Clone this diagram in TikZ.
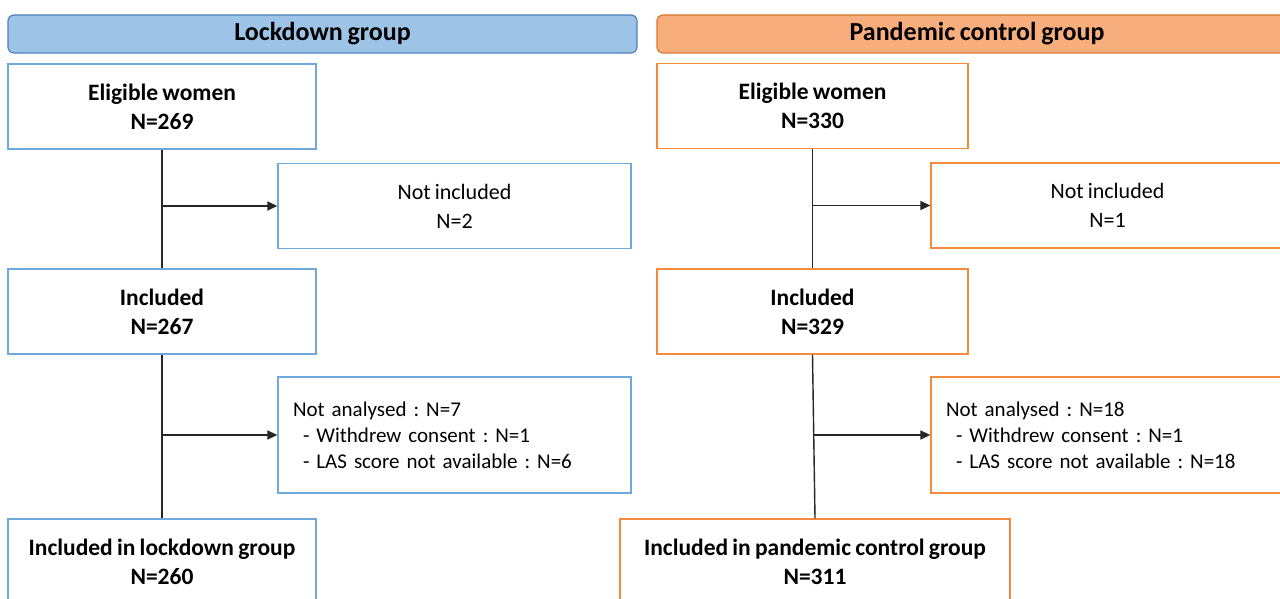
\documentclass[tikz,border=0pt]{standalone}
\usepackage{fontspec}
\setmainfont{Carlito}[WordSpace=0.8]
\usetikzlibrary{arrows.meta}
\definecolor{bluefill}{HTML}{9DC3E6}
\definecolor{blueedge}{HTML}{4F81BD}
\definecolor{bluebox}{HTML}{6FA8DC}
\definecolor{orfill}{HTML}{F8AE7C}
\definecolor{oredge}{HTML}{D9782F}
\definecolor{orbox}{HTML}{F28C3C}
\definecolor{conn}{HTML}{262626}
\frenchspacing
\begin{document}
\begin{tikzpicture}[x=1pt,y=-1pt,
  hdr/.style={draw, rounded corners=6pt, line width=1.2pt, inner sep=0pt,
    font=\bfseries\fontsize{26}{30}\selectfont, minimum height=38pt},
  box/.style={draw, fill=white, line width=1.3pt, inner sep=0pt, align=center,
    font=\fontsize{22}{29}\selectfont, minimum height=85pt},
  bbox/.style={box, font=\bfseries\fontsize{23.5}{29}\selectfont},
  lbox/.style={box, align=left, text width=323pt, inner xsep=15pt,
    font=\fontsize{21}{26}\selectfont, minimum height=116pt},
  blue/.style={draw=bluebox},
  orange/.style={draw=orbox},
  conn/.style={draw=conn, line width=1.4pt},
  arr/.style={conn, -{Triangle[length=10pt,width=9pt]}}
]
\useasboundingbox (0,0) rectangle (1280,599);
\clip (0,0) rectangle (1280,599);
\fill[white] (0,0) rectangle (1280,599);

% headers
\node[hdr, fill=bluefill, draw=blueedge, minimum width=629pt] (h1) at (322.5,34) {Lockdown group};
\node[hdr, fill=orfill, draw=oredge, minimum width=640pt] (h2) at (977,34) {Pandemic control group};

% left column
\node[bbox, blue, minimum width=308pt] (e1) at (162,106.5) {Eligible women\\N=269};
\node[box, blue, minimum width=353pt] (n1) at (454.5,206) {Not included\\N=2};
\node[bbox, blue, minimum width=308pt] (i1) at (162,311.5) {Included\\N=267};
\node[lbox, blue] (a1) at (454.5,435) {Not analysed : N=7\\\hspace*{10pt}- Withdrew consent : N=1\\\hspace*{10pt}- LAS score not available : N=6};
\node[bbox, blue, minimum width=308pt] (f1) at (162,561.5) {Included in lockdown group\\N=260};

% right column
\node[bbox, orange, minimum width=311pt] (e2) at (812.5,106) {Eligible women\\N=330};
\node[box, orange, minimum width=353pt] (n2) at (1107.5,205.5) {Not included\\N=1};
\node[bbox, orange, minimum width=311pt] (i2) at (812.5,311.5) {Included\\N=329};
\node[lbox, orange] (a2) at (1107.5,435) {Not analysed : N=18\\\hspace*{10pt}- Withdrew consent : N=1\\\hspace*{10pt}- LAS score not available : N=18};
\node[bbox, orange, minimum width=390pt] (f2) at (815,561.5) {Included in pandemic control group\\N=311};

% connectors
\draw[conn] (e1.south) -- (i1.north);
\draw[conn] (i1.south) -- (f1.north);
\draw[arr] (e1.south |- n1.west) -- (n1.west);
\draw[arr] (i1.south |- a1.west) -- (a1.west);

\draw[conn] (e2.south) -- (i2.north);
\draw[conn] (i2.south) -- (f2.north);
\draw[arr] (e2.south |- n2.west) -- (n2.west);
\draw[arr] (i2.south |- a2.west) -- (a2.west);
\end{tikzpicture}
\end{document}
